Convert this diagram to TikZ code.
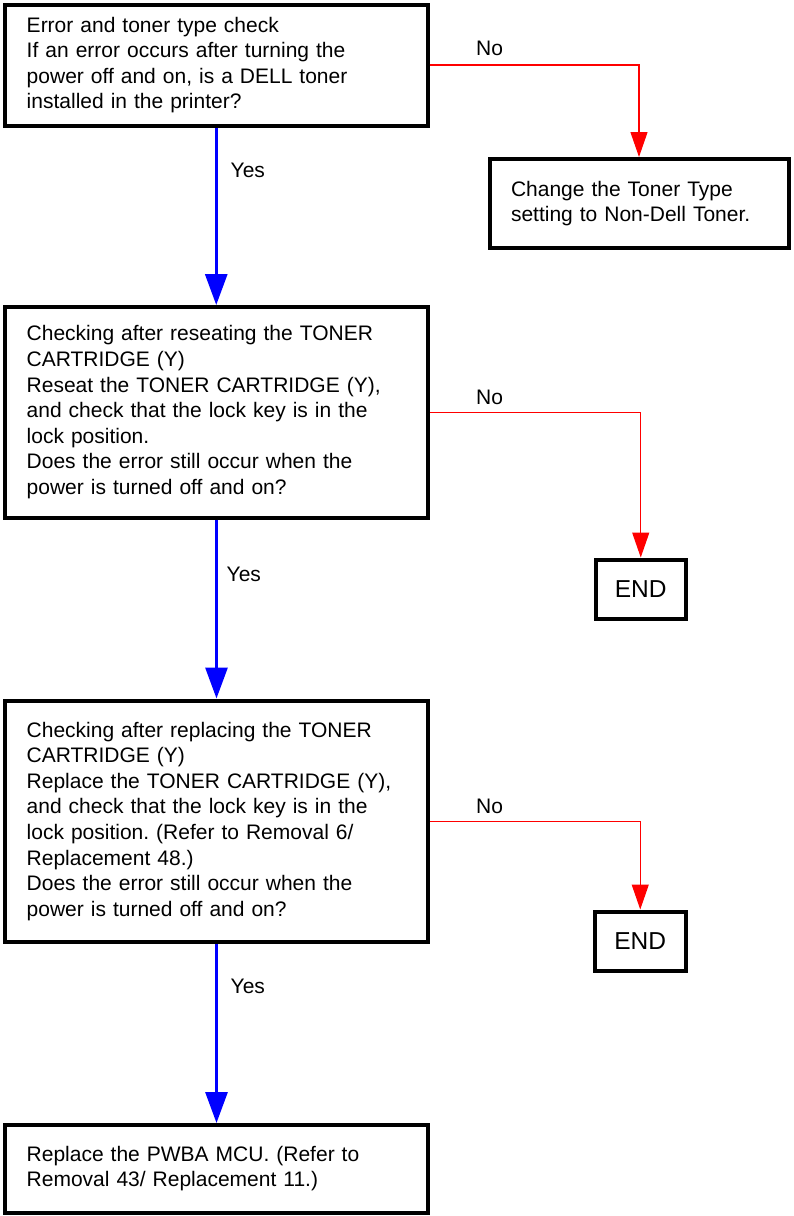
\documentclass[tikz,border=0pt]{standalone}
\usepackage{fontspec}
\setmainfont{Liberation Sans}
\usetikzlibrary{arrows.meta}
\frenchspacing
\tikzset{
  box/.style={draw=black, line width=4pt, rectangle, inner sep=0pt, align=left,
    font=\frenchspacing\fontsize{21}{25.6}\selectfont},
  endbox/.style={draw=black, line width=4pt, rectangle, inner sep=0pt,
    font=\fontsize{24.5}{28}\selectfont},
  yesarrow/.style={draw=blue, line width=3pt, -{Triangle[width=22pt,length=31pt]}},
  noarrow/.style={color=red, line width=1.2pt, -{Triangle[width=17pt,length=25pt]}},
  lbl/.style={inner sep=0pt, anchor=base west, font=\fontsize{21}{25.6}\selectfont}
}
\begin{document}
\begin{tikzpicture}[x=1pt,y=-1pt]
\useasboundingbox (0,0) rectangle (793,1216);
\node[box, minimum width=422.5pt, minimum height=121pt, text width=379pt] (b1) at (216.25,65)
  {Error and toner type check\\If an error occurs after turning the\\power off and on, is a DELL toner\\installed in the printer?};
\node[box, minimum width=299pt, minimum height=89pt, text width=256pt] (chg) at (639,203.5)
  {Change the Toner Type\\setting to Non-Dell Toner.};
\node[box, minimum width=423pt, minimum height=210.5pt, text width=379.6pt] (b2) at (216.5,412.25)
  {Checking after reseating the TONER\\CARTRIDGE (Y)\\Reseat the TONER CARTRIDGE (Y),\\and check that the lock key is in the\\lock position.\\Does the error still occur when the\\power is turned off and on?};
\node[endbox, minimum width=89.5pt, minimum height=59.5pt] (e1) at (640.75,589.25) {END};
\node[box, minimum width=423pt, minimum height=241.5pt, text width=379.6pt] (b3) at (216.5,821.25)
  {Checking after replacing the TONER\\CARTRIDGE (Y)\\Replace the TONER CARTRIDGE (Y),\\and check that the lock key is in the\\lock position. (Refer to Removal 6/\\Replacement 48.)\\Does the error still occur when the\\power is turned off and on?};
\node[endbox, minimum width=90.5pt, minimum height=59pt] (e2) at (640.25,941) {END};
\node[box, minimum width=423pt, minimum height=87.5pt, text width=379.6pt] (b4) at (216.5,1168.75)
  {Replace the PWBA MCU. (Refer to\\Removal 43/ Replacement 11.)};

\draw[yesarrow] (b1.south) -- (b1.south |- b2.north);
\draw[yesarrow] (b2.south) -- (b2.south |- b3.north);
\draw[yesarrow] (b3.south) -- (b3.south |- b4.north);
\draw[noarrow] (b1.east) -| (chg.north);
\draw[noarrow] (b2.east) -| (e1.north);
\draw[noarrow] (b3.east) -| (e2.north);

\node[lbl] (y1) at (230.5,177) {Yes};
\node[lbl] (y2) at (226.5,581) {Yes};
\node[lbl] (y3) at (230.5,993) {Yes};
\node[lbl] (n1) at (476,55) {No};
\node[lbl] (n2) at (476,404) {No};
\node[lbl] (n3) at (476,813) {No};
\end{tikzpicture}
\end{document}
